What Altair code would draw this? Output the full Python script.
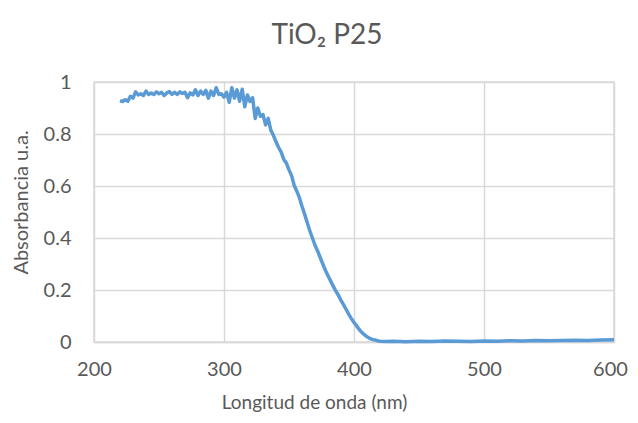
import altair as alt
import pandas as pd

wavelength = [220, 222, 224, 226, 228, 230, 232, 234, 236, 238, 240, 242, 244, 246, 248,
              250, 252, 254, 256, 258, 260, 262, 264, 266, 268, 270, 272, 274, 276, 278,
              280, 282, 284, 286, 288, 290, 292, 294, 296, 298, 300, 302, 304, 306, 308,
              310, 312, 314, 316, 318, 320, 322, 324, 326, 328, 330, 332, 334, 336, 338,
              340, 342, 344, 346, 348, 350, 352, 354, 356, 358, 360, 362, 364, 366, 368,
              370, 372, 374, 376, 378, 380, 382, 384, 386, 388, 390, 392, 394, 396, 398,
              400, 402, 404, 406, 408, 410, 412, 414, 416, 418, 420, 425, 430, 440, 450,
              460, 470, 480, 490, 500, 510, 520, 530, 540, 550, 560, 570, 580, 590, 600]

absorbance = [0.928, 0.925, 0.932, 0.926, 0.945, 0.938, 0.962, 0.950, 0.955, 0.948, 0.965,
              0.952, 0.958, 0.952, 0.962, 0.955, 0.960, 0.948, 0.958, 0.963, 0.953, 0.960,
              0.952, 0.962, 0.956, 0.960, 0.940, 0.958, 0.950, 0.970, 0.948, 0.965, 0.952,
              0.968, 0.938, 0.965, 0.948, 0.978, 0.952, 0.955, 0.942, 0.960, 0.922, 0.978,
              0.938, 0.970, 0.926, 0.972, 0.905, 0.950, 0.925, 0.940, 0.860, 0.900, 0.868,
              0.875, 0.835, 0.860, 0.815, 0.795, 0.770, 0.748, 0.730, 0.702, 0.688, 0.662,
              0.640, 0.602, 0.580, 0.555, 0.522, 0.492, 0.460, 0.428, 0.400, 0.372, 0.350,
              0.325, 0.300, 0.276, 0.255, 0.235, 0.215, 0.196, 0.180, 0.160, 0.143, 0.125,
              0.106, 0.090, 0.075, 0.062, 0.048, 0.037, 0.028, 0.020, 0.014, 0.010, 0.008,
              0.005, 0.003, 0.002, 0.003, 0.001, 0.003, 0.002, 0.004, 0.003, 0.002, 0.004,
              0.003, 0.005, 0.004, 0.006, 0.005, 0.006, 0.007, 0.006, 0.008, 0.009]

x_ticks = [200, 300, 400, 500, 600]
y_ticks = [0, 0.2, 0.4, 0.6, 0.8, 1]

df = pd.DataFrame({"wl": wavelength, "abs": absorbance})

FONT = "Lato"
GRAY = "#595959"
GRID = "#d9d9d9"

chart = alt.Chart(df).mark_line(color="#5B9BD5", strokeWidth=3.5, strokeJoin="round").encode(
    x=alt.X("wl:Q",
            scale=alt.Scale(domain=[200, 600], nice=False, zero=False),
            axis=alt.Axis(values=x_ticks, title="Longitud de onda (nm)",
                          ticks=False, tickSize=0, labelPadding=17, labelFlush=False,
                          labelOffset={"condition": {"test": "datum.value === 600", "value": -4},
                                       "value": 0},
                          labelFont=FONT, labelFontSize=20, labelColor=GRAY,
                          titleFont=FONT, titleFontSize=19, titleColor=GRAY,
                          titleFontWeight="normal", titlePadding=14, titleX=220,
                          grid=True, gridColor=GRID, gridWidth=1.5,
                          domain=True, domainColor=GRID, domainWidth=1.5)),
    y=alt.Y("abs:Q",
            scale=alt.Scale(domain=[0, 1], nice=False),
            axis=alt.Axis(values=y_ticks, format="~g", title="Absorbancia u.a.",
                          ticks=False, tickSize=0, labelPadding=23, labelFlush=False,
                          labelFont=FONT, labelFontSize=20, labelColor=GRAY,
                          titleFont=FONT, titleFontSize=20, titleColor=GRAY,
                          titleFontWeight="normal", titlePadding=12, titleY=120,
                          grid=True, gridColor=GRID, gridWidth=1.5,
                          domain=False)),
).properties(
    width=520, height=260,
    title=alt.TitleParams("TiO₂ P25", font=FONT, fontSize=28, color=GRAY,
                          fontWeight="normal", anchor="middle", offset=22, dx=-27),
    autosize=alt.AutoSizeParams(type="none"),
    padding={"left": 86, "top": 74, "right": 16, "bottom": 80},
).configure_view(stroke=GRID, strokeWidth=1.5)

chart.save("out.html", embed_options={"renderer": "svg", "actions": False})
